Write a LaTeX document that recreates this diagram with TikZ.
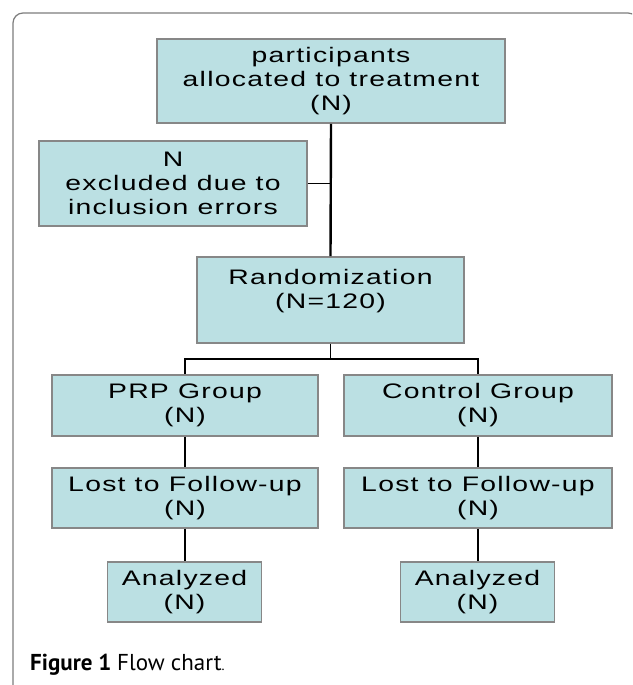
\documentclass[tikz,border=0pt]{standalone}
\usepackage{fontspec}
\newfontfamily\chartfont[FakeStretch=1.35,LetterSpace=6]{Liberation Sans}
\newfontfamily\capfont{PT Sans}
\definecolor{boxfill}{RGB}{187,224,227}
\definecolor{boxline}{RGB}{135,135,135}
\definecolor{framecol}{RGB}{125,125,125}
\begin{document}
\begin{tikzpicture}[x=1pt,y=-1pt,
  box/.style={draw=boxline, line width=1.6pt, fill=boxfill, inner sep=0pt,
    align=center, text=black, font=\chartfont\fontsize{21}{24}\selectfont},
  boxtext/.style={inner sep=0pt, align=center, text=black,
    font=\chartfont\fontsize{21}{24}\selectfont},
  link/.style={draw=black, line width=1.5pt},
  mainlink/.style={draw=black, line width=2.4pt},
  branch/.style={draw=black, line width=1.8pt}]
\useasboundingbox (0,0) rectangle (632,685);
\clip (0,0) rectangle (632,685);
\fill[white] (0,0) rectangle (632,685);
% frame
\draw[framecol, line width=1.2pt, rounded corners=10pt] (13,700) -- (13,13) -- (638,13) -- (638,700);
% boxes
\node[box, minimum width=348pt, minimum height=84pt] (top) at (331,81)
  {participants\\allocated to treatment\\(N)};
\node[box, minimum width=268pt, minimum height=85pt] (excl) at (173,183.5)
  {N\\excluded due to\\inclusion errors};
\node[box, minimum width=267pt, minimum height=86pt] (rand) at (330.5,300) {};
\node[boxtext] (randtxt) at (330.5,291) {Randomization\\(N=120)};
\node[box, minimum width=266pt, minimum height=61pt] (prp) at (185,405.5) {PRP Group\\(N)};
\node[box, minimum width=268pt, minimum height=61pt] (ctrl) at (478,405.5) {Control Group\\(N)};
\node[box, minimum width=266pt, minimum height=60pt] (lost1) at (185,498) {Lost to Follow-up\\(N)};
\node[box, minimum width=268pt, minimum height=60pt] (lost2) at (478,498) {Lost to Follow-up\\(N)};
\node[box, minimum width=154pt, minimum height=60pt] (an1) at (184.5,592) {Analyzed\\(N)};
\node[box, minimum width=154pt, minimum height=60pt] (an2) at (477.5,592) {Analyzed\\(N)};
% connectors
\draw[mainlink] (top.south) -- (rand.north);
\draw[link] (excl.east) -- (excl.east -| rand.north);
\draw[branch] (rand.south) -- ++(0,15) coordinate (junc);
\draw[branch] (prp.north) |- (junc) -| (ctrl.north);
\draw[link] (prp.south) -- (lost1.north);
\draw[link] (lost1.south) -- (an1.north -| lost1.south);
\draw[link] (ctrl.south) -- (lost2.north);
\draw[link] (lost2.south) -- (an2.north -| lost2.south);
% caption
\node[anchor=base west, inner sep=0pt, font=\capfont\fontsize{23}{26}\selectfont] (cap) at (30,670)
  {\bfseries Figure 1 \mdseries Flow chart{\fontsize{14}{16}\selectfont.}};
\end{tikzpicture}
\end{document}
